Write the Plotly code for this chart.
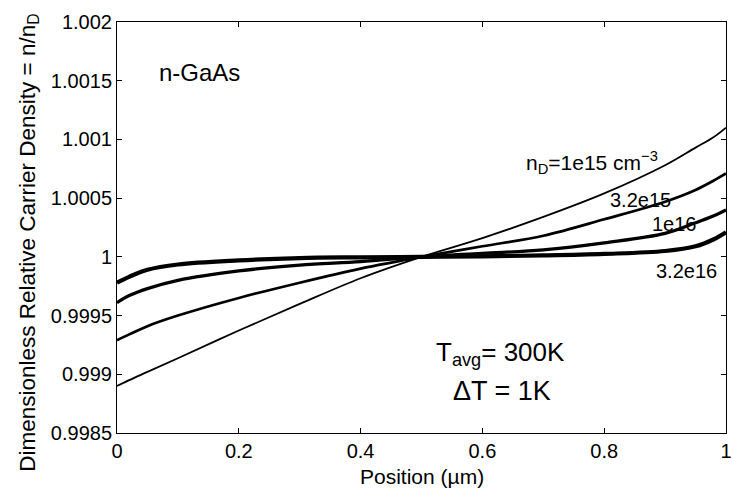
import plotly.graph_objects as go

# Position (um)
position = [0.0, 0.02, 0.05, 0.1, 0.2, 0.3, 0.4, 0.5, 0.6, 0.7, 0.8, 0.9, 0.95, 0.98, 1.0]

# n/nD for each doping level
n_1e15 = [0.99890, 0.99895, 0.99902, 0.999137, 0.999373, 0.999599, 0.999818, 1.0,
          1.00016, 1.00034, 1.00054, 1.00078, 1.00093, 1.00102, 1.00110]
n_3p2e15 = [0.99929, 0.99934, 0.99941, 0.99950, 0.99965, 0.99978, 0.99990, 1.0,
            1.00009, 1.00018, 1.00032, 1.00047, 1.00057, 1.00065, 1.00071]
n_1e16 = [0.99961, 0.99967, 0.99973, 0.99980, 0.99988, 0.99993, 0.99996, 1.0,
          1.00003, 1.00006, 1.00012, 1.00020, 1.00029, 1.00035, 1.00040]
n_3p2e16 = [0.99978, 0.99983, 0.99989, 0.999935, 0.99997, 0.99999, 0.999996, 1.0,
            1.000004, 1.000012, 1.000025, 1.00005, 1.00009, 1.00015, 1.00021]

series = [n_1e15, n_3p2e15, n_1e16, n_3p2e16]
widths = [1.8, 2.7, 3.3, 4.2]

x_ticks = [0, 0.2, 0.4, 0.6, 0.8, 1]
x_tick_text = ["0", "0.2", "0.4", "0.6", "0.8", "1"]
y_ticks = [0.9985, 0.999, 0.9995, 1.0, 1.0005, 1.001, 1.0015, 1.002]
y_tick_text = ["0.9985", "0.999", "0.9995", "1", "1.0005", "1.001", "1.0015", "1.002"]

FONT = "Liberation Sans, Arial, Helvetica, sans-serif"

fig = go.Figure()
for ys, w in zip(series, widths):
    fig.add_trace(go.Scatter(x=position, y=ys, mode="lines",
                             line=dict(color="black", width=w, shape="spline", smoothing=1.0),
                             showlegend=False, hoverinfo="skip"))

axis_common = dict(showline=True, linecolor="black", linewidth=1, mirror="allticks",
                   ticks="inside", ticklen=5, tickcolor="black", tickwidth=1,
                   showgrid=False, zeroline=False, ticklabeloverflow="allow",
                   automargin=False,
                   tickfont=dict(family=FONT, size=20, color="black"))

fig.update_xaxes(range=[0, 1], tickvals=x_ticks, ticktext=x_tick_text, **axis_common)
fig.update_yaxes(range=[0.9985, 1.002], tickvals=y_ticks, ticktext=y_tick_text, **axis_common)

def txt(x, y, s, size, xref="x", yref="y", xanchor="center", yanchor="middle", angle=0):
    fig.add_annotation(x=x, y=y, xref=xref, yref=yref, text=s, showarrow=False,
                       font=dict(family=FONT, size=size, color="black"),
                       xanchor=xanchor, yanchor=yanchor, textangle=angle)

# axis titles
txt(-0.145, 0.462, "Dimensionless Relative Carrier Density = n/n<sub>D</sub>", 22.5,
    xref="paper", yref="paper", angle=-90)
txt(0.5, -0.107, "Position (µm)", 21, xref="paper", yref="paper")

# in-plot labels
txt(0.136, 1.00157, "n-GaAs", 24)
txt(0.668, 1.00080, "n<sub>D</sub>=1e15 cm<sup>−3</sup>", 21, xanchor="left")
txt(0.807, 1.00048, "3.2e15", 20, xanchor="left")
txt(0.876, 1.000284, "1e16", 20, xanchor="left")
txt(0.881, 0.999882, "3.2e16", 20, xanchor="left")
txt(0.5205, 0.999177, "T<sub>avg</sub>= 300K", 26, xanchor="left")
txt(0.548, 0.99886, "ΔT = 1K", 27, xanchor="left")

fig.update_layout(width=732, height=492,
                  margin=dict(l=117, r=6, t=22, b=59),
                  paper_bgcolor="white", plot_bgcolor="white",
                  font=dict(family=FONT, color="black"))

fig.write_html("out.html")
